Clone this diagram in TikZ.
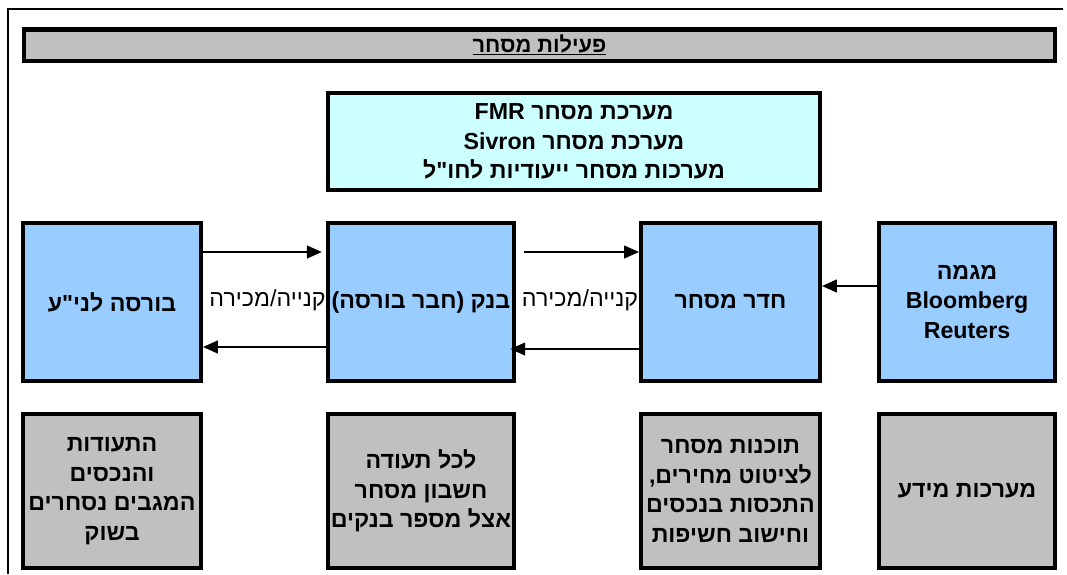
\documentclass[tikz,border=0pt]{standalone}
\usepackage{fontspec}
\setmainfont[Script=Hebrew, Ligatures=TeXOff]{Liberation Sans}
\usetikzlibrary{arrows.meta}
\TeXXeTstate=1
\newcommand{\rl}[1]{\beginR#1\endR}
\definecolor{boxgray}{HTML}{C0C0C0}
\definecolor{boxblue}{HTML}{99CCFF}
\definecolor{boxcyan}{HTML}{CCFFFF}
\tikzset{
  box/.style={draw, line width=3.2pt, align=center, inner sep=0pt,
    font=\fontsize{16.5}{21}\selectfont\bfseries},
  bluebox/.style={box, fill=boxblue, minimum height=3.9375cm},
  graybox/.style={box, fill=boxgray, minimum height=3.8375cm},
  arr/.style={-{Triangle[length=3.7mm,width=3.2mm]}, line width=1.2pt},
  deal/.style={inner sep=0pt, font=\fontsize{16.5}{20}\selectfont}
}

\begin{document}
\begin{tikzpicture}[x=0.025cm, y=-0.025cm]
            %\draw[lightgray, step=50] (0, 0) grid (1067, 574);
            \useasboundingbox (0, 0) rectangle (1067, 574);
            \draw[line width=0.9pt] (8, 574) -- (8, 9) -- (1063, 9);
            \node[box, fill=boxgray, minimum width=25.7625cm, minimum height=0.7875cm,
              font=\fontsize{15.5}{17}\selectfont\bfseries] (title) at (539.5, 45) {\underline{\rl{פעילות מסחר}}};
            \node[box, fill=boxcyan, minimum width=12.2875cm, minimum height=2.4125cm] (systems) at (574, 141.5)
              {\rl{מערכת מסחר \beginL FMR\endL}\\\rl{מערכת מסחר \beginL Sivron\endL}\\\rl{מערכות מסחר ייעודיות לחו"ל}};
            \node[bluebox, minimum width=4.4375cm] (exchange) at (112, 302) {\rl{בורסה לני"ע}};
            \node[bluebox, minimum width=4.6375cm] (bank) at (421, 302) {\rl{בנק (חבר בורסה)}};
            \node[bluebox, minimum width=4.4625cm] (room) at (730.5, 302) {\rl{חדר מסחר}};
            \node[bluebox, minimum width=4.3875cm] (feeds) at (967, 302) {\rl{מגמה}\\Bloomberg\\Reuters};
            \node[graybox, minimum width=4.4375cm] (assets) at (112, 491)
              {\rl{התעודות}\\\rl{והנכסים}\\\rl{המגבים נסחרים}\\\rl{בשוק}};
            \node[graybox, minimum width=4.6375cm] (accounts) at (421, 491)
              {\rl{לכל תעודה}\\\rl{חשבון מסחר}\\\rl{אצל מספר בנקים}};
            \node[graybox, minimum width=4.4625cm] (software) at (730.5, 491)
              {\rl{תוכנות מסחר}\\\rl{לציטוט מחירים,}\\\rl{התכסות בנכסים}\\\rl{וחישוב חשיפות}};
            \node[graybox, minimum width=4.3875cm] (info) at (967, 491) {\rl{מערכות מידע}};
            \node[deal] (deal1) at (267.5, 300) {\rl{קנייה/מכירה}};
            \node[deal] (deal2) at (580, 300) {\rl{קנייה/מכירה}};
            \draw[arr, shorten >=3pt] (exchange.east |- 0, 252) -- (bank.west |- 0, 252);
            \draw[arr] (bank.west |- 0, 347) -- (exchange.east |- 0, 347);
            \draw[arr, shorten <=6pt] (bank.east |- 0, 252) -- (room.west |- 0, 252);
            \draw[arr, shorten >=-4pt] (room.west |- 0, 349) -- (bank.east |- 0, 349);
            \draw[arr] (feeds.west |- 0, 286) -- (room.east |- 0, 286);
        \end{tikzpicture}
\end{document}
